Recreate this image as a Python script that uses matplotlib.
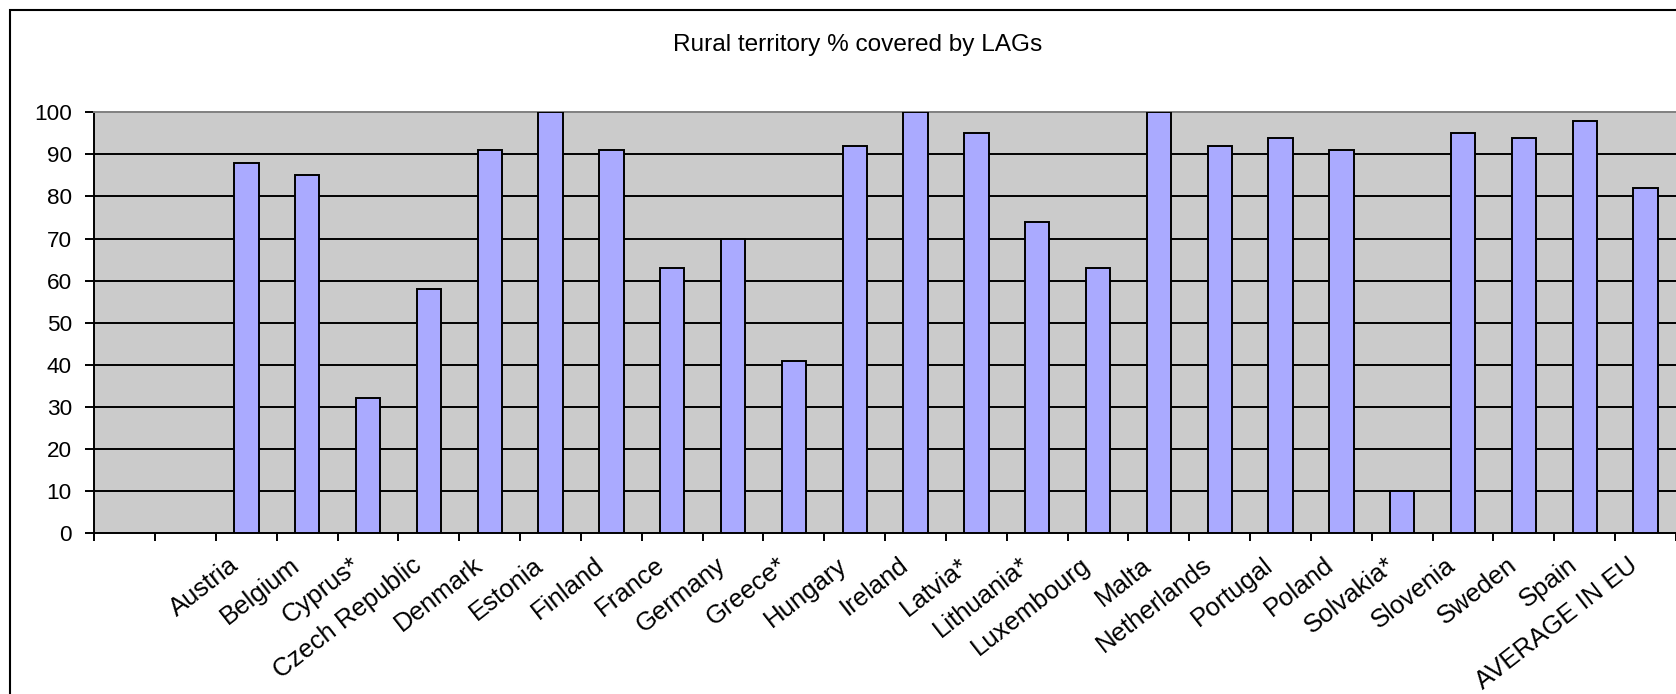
import numpy as np
import matplotlib
matplotlib.use("Agg")
import matplotlib.pyplot as plt
from matplotlib.patches import Rectangle
from matplotlib.transforms import Bbox, TransformedBbox, ScaledTranslation

plt.rcParams['font.family'] = ['Liberation Sans', 'DejaVu Sans']

# data
countries = ["Austria", "Belgium", "Cyprus*", "Czech Republic", "Denmark", "Estonia",
             "Finland", "France", "Germany", "Greece*", "Hungary", "Ireland", "Latvia*",
             "Lithuania*", "Luxembourg", "Malta", "Netherlands", "Portugal", "Poland",
             "Solvakia*", "Slovenia", "Sweden", "Spain", "AVERAGE IN EU"]
coverage = [88, 85, 32, 58, 91, 100, 91, 63, 70, 41, 92, 100, 95, 74, 63, 100,
            92, 94, 91, 10, 95, 94, 98, 82]
n_blank = 2  # two empty category slots before the first bar
y_ticks = list(range(0, 101, 10))

W, H = 1676, 694
fig = plt.figure(figsize=(W / 100, H / 100), dpi=100)

# chart-area border (the screenshot cuts it on the right and bottom)
fig.patches.append(Rectangle((10 / W, -0.1), 2, 1.1 - 9.5 / H, transform=fig.transFigure,
                             fill=False, edgecolor='black', linewidth=1.5))

ax = fig.add_axes([94.3 / W, 1 - 533 / H, (W - 94.3) / W, (533 - 112.3) / H])
ax.set_facecolor('#CBCBCB')

x = np.arange(len(countries)) + n_blank
ax.bar(x, coverage, width=0.4, color='#AAAAFF', edgecolor='black', linewidth=1.4, zorder=3)

n_slots = len(countries) + n_blank
ax.set_xlim(-0.5, n_slots - 0.5)
ax.set_ylim(0, 100)

ax.set_yticks(y_ticks)
ax.tick_params(axis='y', length=6.5, width=1.4, pad=9.6, labelsize=16.2)
for yv in y_ticks[1:-1]:
    ax.axhline(yv, color='black', linewidth=1.4, zorder=1)

# labels under the bars, tick marks on the category boundaries
ax.set_xticks(x, labels=countries)
ax.set_xticks(np.arange(n_slots + 1) - 0.5, minor=True)
ax.tick_params(axis='x', which='minor', length=5.8, width=1.4)
ax.tick_params(axis='x', which='major', length=0, pad=25.2, labelsize=18.5)

clip = TransformedBbox(Bbox([[0, 0], [1, 1 - 547 / H]]), fig.transFigure)
shift = ScaledTranslation(-6 / 100, 0, fig.dpi_scale_trans)
for lbl in ax.get_xticklabels():
    lbl.set_rotation(38)
    lbl.set_rotation_mode('anchor')
    lbl.set_ha('right')
    lbl.set_va('baseline')
    lbl.set_transform(lbl.get_transform() + shift)
    lbl.set_clip_box(clip)
    lbl.set_clip_on(True)

for side in ['left', 'bottom']:
    ax.spines[side].set_color('black')
    ax.spines[side].set_linewidth(1.4)
ax.spines['top'].set_color('#808080')
ax.spines['top'].set_linewidth(1.4)
ax.spines['right'].set_visible(False)

fig.text(858 / W, 1 - 44.5 / H, "Rural territory % covered by LAGs", ha='center', va='center',
         fontsize=17.6)

fig.savefig("out.png", dpi=100)
